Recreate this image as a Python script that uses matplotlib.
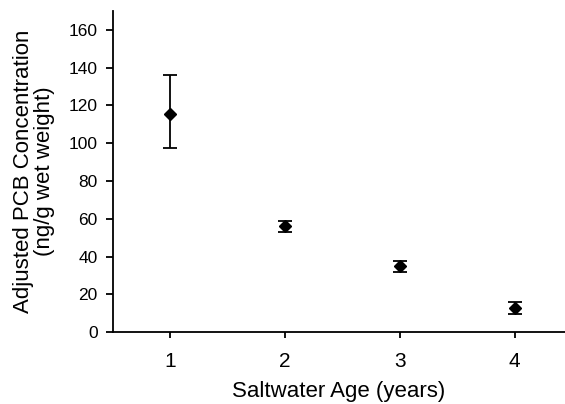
import matplotlib
matplotlib.use("Agg")
import matplotlib.pyplot as plt

plt.rcParams['font.family'] = ['Liberation Sans', 'DejaVu Sans']

years = [1, 2, 3, 4]
conc = [115.3, 56.0, 34.8, 12.8]
err_low = [18.0, 2.9, 2.8, 3.0]
err_high = [20.9, 2.9, 2.8, 3.0]
yticks = [0, 20, 40, 60, 80, 100, 120, 140, 160]

fig = plt.figure(figsize=(5.65, 4.04), dpi=100)
ax = fig.add_axes([0.2, 0.178, 0.8, 0.795])

ax.errorbar(years, conc, yerr=[err_low, err_high], fmt='D', color='black',
            markersize=6, capsize=5, elinewidth=1.3, capthick=1.3)

ax.set_xlim(0.5, 4.44)
ax.set_ylim(0, 170)
ax.set_xticks(years)
ax.set_yticks(yticks)
ax.spines['top'].set_visible(False)
ax.spines['right'].set_visible(False)
for s in ('left', 'bottom'):
    ax.spines[s].set_linewidth(1.3)
ax.tick_params(axis='y', direction='out', length=5, width=1.3, labelsize=12.5, pad=6)
ax.tick_params(axis='x', direction='out', length=4, width=1.3, labelsize=15, pad=10)

ax.set_xlabel('Saltwater Age (years)', fontsize=16, labelpad=7.5)
ax.set_ylabel('Adjusted PCB Concentration\n(ng/g wet weight)', fontsize=16,
              labelpad=10, linespacing=1.0)

fig.savefig('out.png', dpi=100)
